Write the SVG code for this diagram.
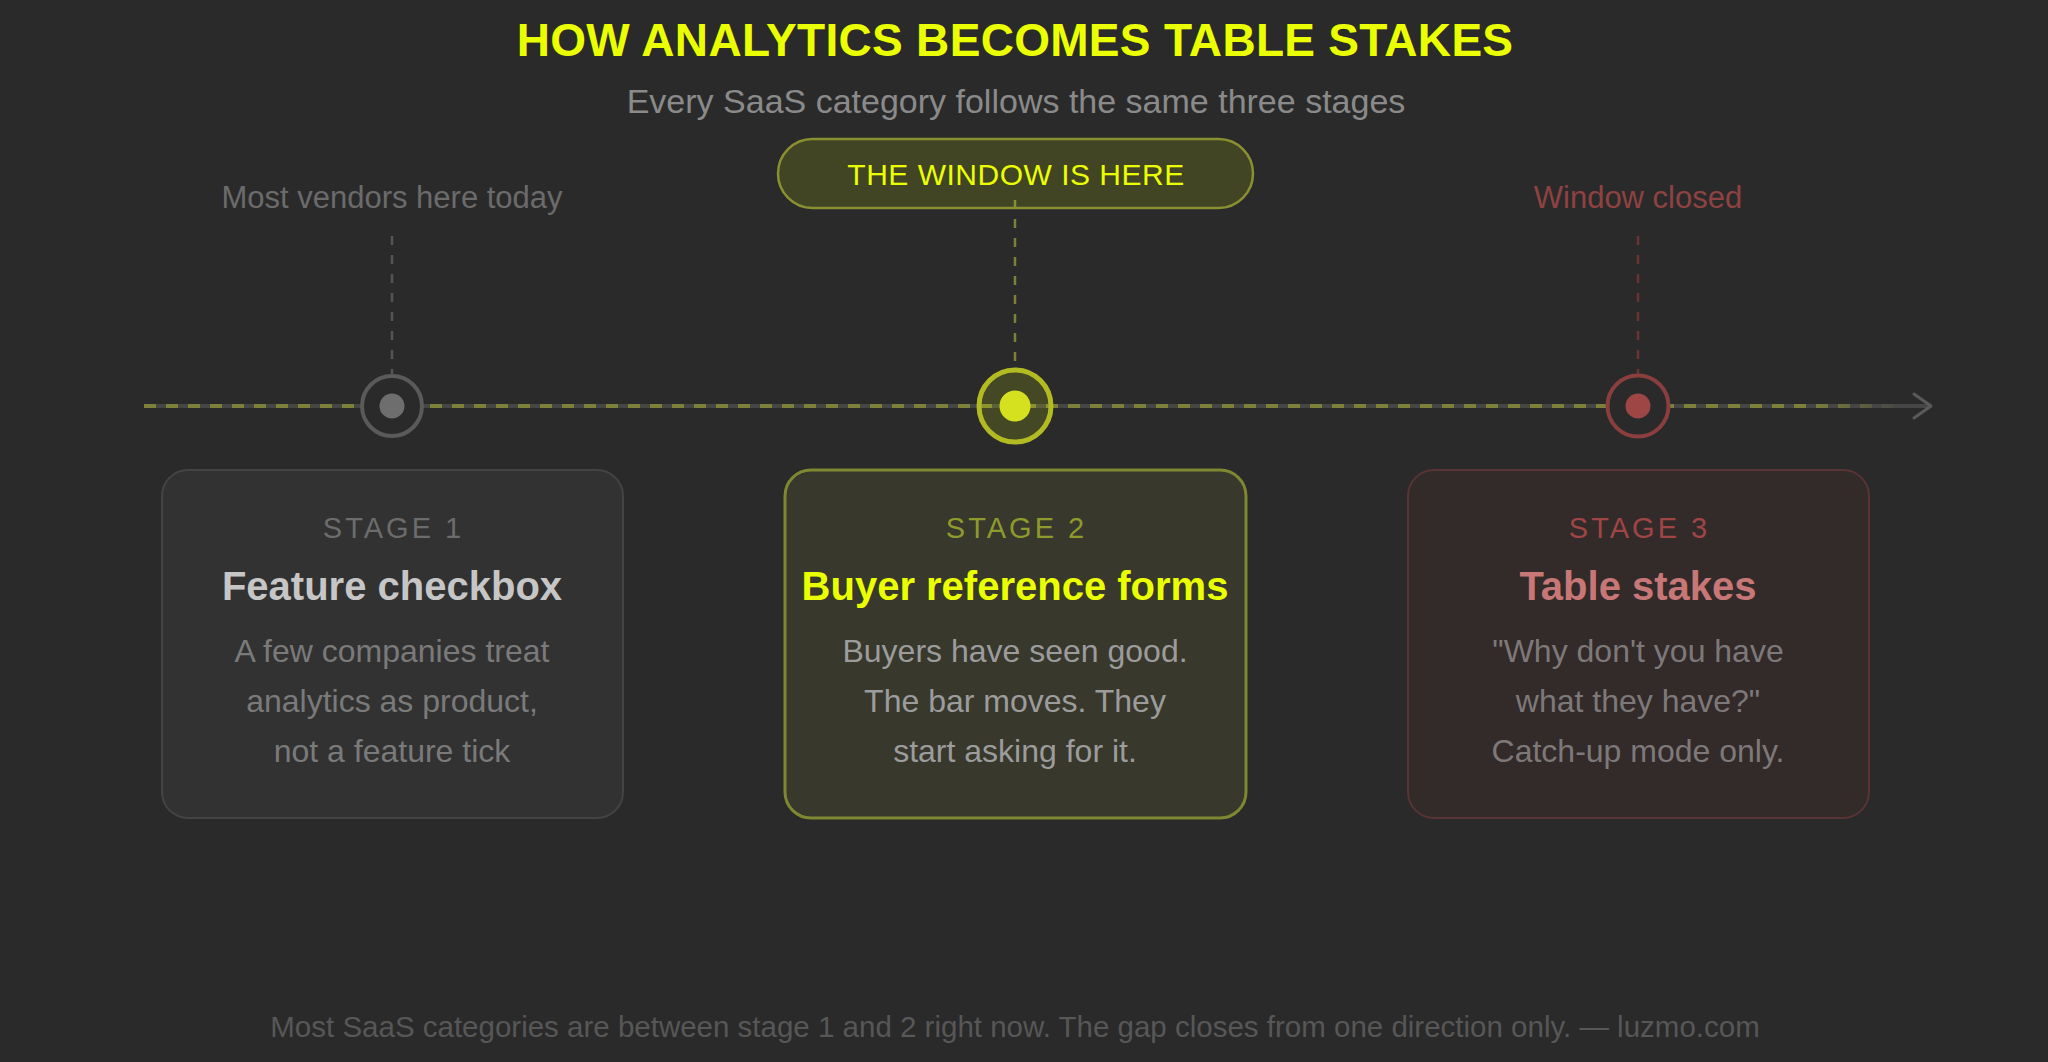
<svg xmlns="http://www.w3.org/2000/svg" width="2048" height="1062" viewBox="0 0 2048 1062">
  <defs>
    <style>
      text { font-family: "Liberation Sans", Arial, Helvetica, sans-serif; text-anchor: middle; }
      .title { font-size: 46px; font-weight: 700; fill: #eaff00; letter-spacing: 0.3px; }
      .sub { font-size: 34px; fill: #8a8a8a; }
      .lbl { font-size: 31px; }
      .stage { font-size: 29px; letter-spacing: 3px; }
      .head { font-size: 40px; font-weight: 700; }
      .body { font-size: 32px; }
      .foot { font-size: 29.5px; fill: #575757; }
      .vline { stroke-width: 2.5; stroke-dasharray: 9 10; fill: none; }
    </style>
    <linearGradient id="fade" x1="144" y1="0" x2="1900" y2="0" gradientUnits="userSpaceOnUse">
      <stop offset="0" stop-color="#7c8038"/>
      <stop offset="0.95" stop-color="#7c8038"/>
      <stop offset="1" stop-color="#7c8038" stop-opacity="0"/>
    </linearGradient>
  </defs>
  <rect width="2048" height="1062" fill="#2a2a2a"/>

  <g id="header">
    <text class="title" x="1015" y="56">HOW ANALYTICS BECOMES TABLE STAKES</text>
    <text class="sub" x="1016" y="113">Every SaaS category follows the same three stages</text>
  </g>

  <g id="connectors">
    <line x1="144" y1="406" x2="1930" y2="406" stroke="#464646" stroke-width="4"/>
    <line x1="144" y1="406" x2="1900" y2="406" stroke="url(#fade)" stroke-width="4" stroke-dasharray="12 10"/>
    <polyline points="1914,394 1931,406 1914,418" fill="none" stroke="#5a5a5a" stroke-width="3" stroke-linecap="round" stroke-linejoin="round"/>
    <line class="vline" x1="392" y1="236" x2="392" y2="374" stroke="#555555"/>
    <line class="vline" x1="1015" y1="200" x2="1015" y2="368" stroke="#7c8038"/>
    <line class="vline" x1="1638" y1="236" x2="1638" y2="374" stroke="#6a3434"/>
  </g>

  <g id="label-today">
    <text class="lbl" x="392" y="208" fill="#6b6b6b">Most vendors here today</text>
  </g>
  <g id="label-window">
    <rect x="778" y="139" width="475" height="69" rx="34.5" fill="#eaff00" fill-opacity="0.13" stroke="#8a9030" stroke-width="2.5"/>
    <text x="1016" y="185" font-size="30" letter-spacing="0.5" fill="#eaff00">THE WINDOW IS HERE</text>
  </g>
  <g id="label-closed">
    <text class="lbl" x="1638" y="208" fill="#8e4242">Window closed</text>
  </g>

  <g id="marker-1">
    <circle cx="392" cy="406" r="30" fill="#2a2a2a" stroke="#5a5a5a" stroke-width="4"/>
    <circle cx="392" cy="406" r="12.5" fill="#6e6e6e"/>
  </g>
  <g id="marker-2">
    <circle cx="1015" cy="406" r="36" fill="#eaff00" fill-opacity="0.14" stroke="#b2bc22" stroke-width="5"/>
    <circle cx="1015" cy="406" r="15.5" fill="#d5e01e"/>
  </g>
  <g id="marker-3">
    <circle cx="1638" cy="406" r="30.5" fill="#2a2a2a" stroke="#8a3e3e" stroke-width="4"/>
    <circle cx="1638" cy="406" r="12.5" fill="#9e4545"/>
  </g>

  <g id="stage-1">
    <rect x="162" y="470" width="461" height="348" rx="26" fill="#323232" stroke="#444444" stroke-width="2"/>
    <text class="stage" x="393.5" y="538" fill="#6c6c6c">STAGE 1</text>
    <text class="head" x="392" y="600" fill="#c6c6c6">Feature checkbox</text>
    <text class="body" x="392" y="662" fill="#7a7a7a">A few companies treat</text>
    <text class="body" x="392" y="712" fill="#7a7a7a">analytics as product,</text>
    <text class="body" x="392" y="762" fill="#7a7a7a">not a feature tick</text>
  </g>

  <g id="stage-2">
    <rect x="785" y="470" width="461" height="348" rx="26" fill="#38382d" stroke="#7f8730" stroke-width="3"/>
    <text class="stage" x="1016.5" y="538" fill="#8e9a2c">STAGE 2</text>
    <text class="head" x="1015" y="600" fill="#eaff00">Buyer reference forms</text>
    <text class="body" x="1015" y="662" fill="#9c9c9c">Buyers have seen good.</text>
    <text class="body" x="1015" y="712" fill="#9c9c9c">The bar moves. They</text>
    <text class="body" x="1015" y="762" fill="#9c9c9c">start asking for it.</text>
  </g>

  <g id="stage-3">
    <rect x="1408" y="470" width="461" height="348" rx="26" fill="#332a2a" stroke="#583434" stroke-width="2"/>
    <text class="stage" x="1639.5" y="538" fill="#a04545">STAGE 3</text>
    <text class="head" x="1638" y="600" fill="#c87777">Table stakes</text>
    <text class="body" x="1638" y="662" fill="#7d7979">"Why don't you have</text>
    <text class="body" x="1638" y="712" fill="#7d7979">what they have?"</text>
    <text class="body" x="1638" y="762" fill="#7d7979">Catch-up mode only.</text>
  </g>

  <g id="footer">
    <text class="foot" x="1015" y="1037">Most SaaS categories are between stage 1 and 2 right now. The gap closes from one direction only. — luzmo.com</text>
  </g>
</svg>
